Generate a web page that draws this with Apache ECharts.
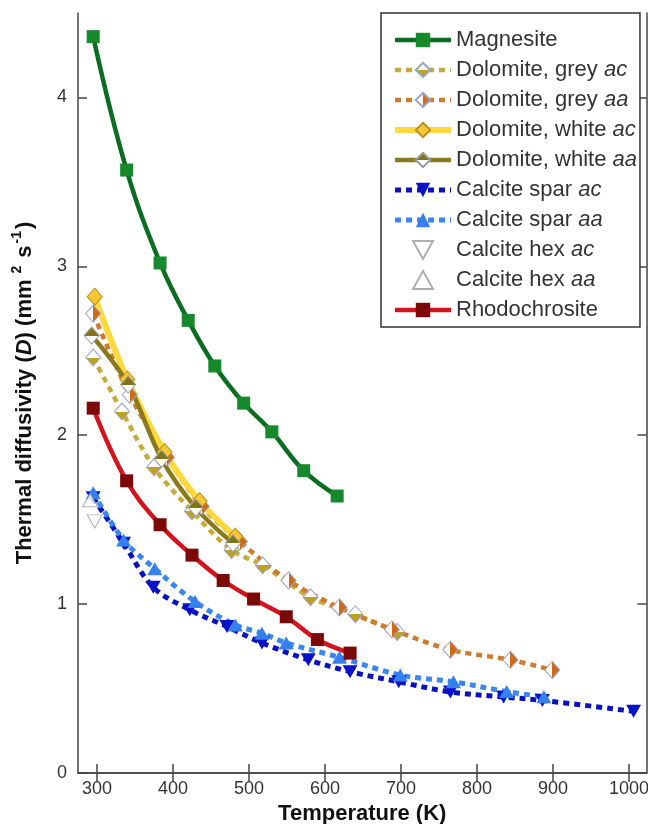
<!DOCTYPE html>
<html><head><meta charset="utf-8">
<script src="https://cdn.jsdelivr.net/npm/echarts@6/dist/echarts.min.js"></script>
<style>html,body{margin:0;padding:0;background:#fff}#c{width:648px;height:824px}</style>
</head><body><div id="c"></div>
<script>
// ---- data (Temperature K, Thermal diffusivity mm^2/s) ----
const xTicks = [300, 400, 500, 600, 700, 800, 900, 1000];
const yTicks = [0, 1, 2, 3, 4];

const magT = [295, 339, 383, 420, 455, 493, 530, 572, 616];
const magD = [4.36, 3.57, 3.02, 2.68, 2.41, 2.19, 2.02, 1.79, 1.64];

const greyAcT = [295, 333, 375, 425, 477, 518, 581, 640, 695];
const greyAcD = [2.46, 2.14, 1.81, 1.55, 1.32, 1.23, 1.04, 0.94, 0.835];

const greyAaT = [295, 343, 392, 438, 488, 552, 619, 688, 765, 844, 899];
const greyAaD = [2.72, 2.24, 1.87, 1.58, 1.37, 1.14, 0.98, 0.85, 0.73, 0.67, 0.61];

const whiteAcT = [297, 340, 389, 435, 482];
const whiteAcD = [2.82, 2.33, 1.90, 1.61, 1.40];

const whiteAaT = [293, 341, 385, 430, 479];
const whiteAaD = [2.59, 2.30, 1.86, 1.57, 1.36];

const sparAcT = [295, 335, 374, 422, 471, 517, 578, 633, 697, 765, 835, 886, 1006];
const sparAcD = [1.63, 1.36, 1.10, 0.966, 0.867, 0.77, 0.67, 0.60, 0.54, 0.48, 0.45, 0.43, 0.365];

const sparAaT = [295, 335, 376, 429, 482, 517, 549, 619, 699, 769, 839, 888];
const sparAaD = [1.66, 1.38, 1.21, 1.015, 0.877, 0.828, 0.77, 0.685, 0.58, 0.54, 0.482, 0.452];

const hexAcT = [297];
const hexAcD = [1.49];
const hexAaT = [291];
const hexAaD = [1.615];

const rhoT = [295, 339, 383, 425, 466, 506, 549, 590, 633];
const rhoD = [2.16, 1.73, 1.47, 1.29, 1.14, 1.03, 0.925, 0.79, 0.71];

const names = ['Magnesite', 'Dolomite, grey ac', 'Dolomite, grey aa', 'Dolomite, white ac',
  'Dolomite, white aa', 'Calcite spar ac', 'Calcite spar aa', 'Calcite hex ac', 'Calcite hex aa', 'Rhodochrosite'];

// ---- helpers ----
const pairs = (xs, ys) => xs.map((x, i) => [x, ys[i]]);
const splitV = (top, bottom) => ({type: 'linear', x: 0, y: 0, x2: 0, y2: 1,
  colorStops: [{offset: 0, color: top}, {offset: 0.5, color: top}, {offset: 0.5, color: bottom}, {offset: 1, color: bottom}]});
const splitH = (left, right) => ({type: 'linear', x: 0, y: 0, x2: 1, y2: 0,
  colorStops: [{offset: 0, color: left}, {offset: 0.5, color: left}, {offset: 0.5, color: right}, {offset: 1, color: right}]});
const DOWN = 'path://M0,0 L10,0 L5,9 Z';
const UP = 'path://M5,0 L10,9 L0,9 Z';
const DOT = [6, 5];

function lineSeries(name, xs, ys, o) {
  return {
    name, type: 'line', data: pairs(xs, ys), smooth: o.smooth ?? 0.35,
    symbol: o.symbol, symbolSize: o.size,
    lineStyle: {color: o.lineColor, width: o.width, type: o.type || 'solid', cap: 'butt'},
    itemStyle: {color: o.fill, borderColor: o.border || o.fill, borderWidth: o.bw ?? 0, opacity: 1},
    z: o.z || 2, animation: false, silent: true
  };
}

const series = [
  lineSeries(names[0], magT, magD, {symbol: 'rect', size: 13, lineColor: '#0b6d22', width: 4.5, fill: '#16892c', smooth: 0.4}),
  lineSeries(names[1], greyAcT, greyAcD, {symbol: 'diamond', size: [15, 17], lineColor: '#c8aa34', width: 4.5, type: DOT,
    fill: splitV('#ffffff', '#bfa020'), border: '#98a4c8', bw: 1}),
  lineSeries(names[2], greyAaT, greyAaD, {symbol: 'diamond', size: [15, 17], lineColor: '#cf7a2c', width: 4.5, type: DOT,
    fill: splitH('#ffffff', '#d06a14'), border: '#98a4c8', bw: 1}),
  lineSeries(names[3], whiteAcT, whiteAcD, {symbol: 'diamond', size: [15, 17], lineColor: '#ffd83c', width: 6,
    fill: '#f8c834', border: '#b89020', bw: 1}),
  lineSeries(names[4], whiteAaT, whiteAaD, {symbol: 'diamond', size: [15, 17], lineColor: '#8a7a1c', width: 4.5,
    fill: splitV('#7f7418', '#ffffff'), border: '#9a9a9a', bw: 1}),
  lineSeries(names[5], sparAcT, sparAcD, {symbol: DOWN, size: [15, 13], lineColor: '#0a12c0', width: 5, type: DOT,
    fill: '#0a12c8'}),
  lineSeries(names[6], sparAaT, sparAaD, {symbol: UP, size: [15, 13], lineColor: '#3a86f2', width: 5, type: DOT,
    fill: '#3580f0'}),
  {name: names[7], type: 'scatter', data: pairs(hexAcT, hexAcD), symbol: DOWN, symbolSize: [15, 13],
    itemStyle: {color: '#ffffff', borderColor: '#9a9a9a', borderWidth: 1}, animation: false, silent: true, z: 3},
  {name: names[8], type: 'scatter', data: pairs(hexAaT, hexAaD), symbol: UP, symbolSize: [15, 13],
    itemStyle: {color: '#ffffff', borderColor: '#9a9a9a', borderWidth: 1}, animation: false, silent: true, z: 3},
  lineSeries(names[9], rhoT, rhoD, {symbol: 'rect', size: 13, lineColor: '#d4141c', width: 4.5, fill: '#7c0808', smooth: 0.4}),
];

const axisLine = {show: true, lineStyle: {color: '#444', width: 1.5}};
const tickStyle = {lineStyle: {color: '#444', width: 1.5}};

const option = {
  backgroundColor: '#fff',
  animation: false,
  grid: {left: 78, right: 1.5, top: 13, bottom: 51, outerBoundsMode: 'none', containLabel: false},
  xAxis: [
    {type: 'value', min: 275, max: 1023, position: 'bottom',
     axisLine, axisTick: Object.assign({show: true, inside: true, length: 9, customValues: xTicks}, tickStyle),
     axisLabel: {customValues: xTicks, fontSize: 18, color: '#333', margin: 7, fontFamily: 'Liberation Sans',
       formatter: (v) => String(v)},
     splitLine: {show: false},
     name: 'Temperature (K)', nameLocation: 'middle', nameGap: 30,
     nameTextStyle: {fontSize: 22, fontWeight: 'bold', color: '#111', fontFamily: 'Liberation Sans'}},
    {type: 'value', min: 275, max: 1023, position: 'top',
     axisLine, axisTick: Object.assign({show: true, inside: true, length: 9, customValues: xTicks}, tickStyle),
     axisLabel: {show: false}, splitLine: {show: false}}
  ],
  yAxis: [
    {type: 'value', min: 0, max: 4.5, position: 'left',
     axisLine, axisTick: Object.assign({show: true, inside: true, length: 9, customValues: yTicks}, tickStyle),
     axisLabel: {customValues: yTicks, fontSize: 18, color: '#333', margin: 11, fontFamily: 'Liberation Sans',
       formatter: (v) => String(v)},
     splitLine: {show: false},
     name: '{b|Thermal diffusivity (}{bi|D}{b|) (mm}{sup| 2}{b| s}{sup|-1}{b|)}',
     nameLocation: 'middle', nameGap: 42,
     nameTextStyle: {fontSize: 22, fontWeight: 'bold', color: '#111', fontFamily: 'Liberation Sans',
       rich: {
         b: {fontSize: 22, fontWeight: 'bold', color: '#111', fontFamily: 'Liberation Sans', lineHeight: 26, verticalAlign: 'bottom'},
         bi: {fontSize: 22, fontWeight: 'bold', fontStyle: 'italic', color: '#111', fontFamily: 'Liberation Sans', lineHeight: 26, verticalAlign: 'bottom'},
         sup: {fontSize: 14, fontWeight: 'bold', color: '#111', fontFamily: 'Liberation Sans', lineHeight: 26, verticalAlign: 'top', padding: [0, 2, 0, 2]}
       }}},
    {type: 'value', min: 0, max: 4.5, position: 'right',
     axisLine, axisTick: Object.assign({show: true, inside: true, length: 9, customValues: yTicks}, tickStyle),
     axisLabel: {show: false}, splitLine: {show: false}}
  ],
  legend: {
    data: names, orient: 'vertical', left: 381, top: 13,
    padding: [16, 3, 6, 11], itemGap: 8, itemWidth: 56, itemHeight: 18, itemTextGap: 7,
    borderColor: '#333', borderWidth: 1.5, backgroundColor: '#fff',
    selectedMode: false,
    lineStyle: {width: 'inherit'},
    formatter: (n) => {
      const m = n.match(/^(.*) (ac|aa)$/);
      return m ? '{n|' + m[1] + ' }{i|' + m[2] + '}' : '{n|' + n + '}';
    },
    textStyle: {color: '#333', fontSize: 22, fontFamily: 'Liberation Sans',
      rich: {n: {fontSize: 22, lineHeight: 20, fontFamily: 'Liberation Sans', color: '#333'},
             i: {fontSize: 22, lineHeight: 20, fontStyle: 'italic', fontFamily: 'Liberation Sans', color: '#333'}}}
  },
  series
};
const chart = echarts.init(document.getElementById('c'), null, {renderer: 'canvas'});
chart.setOption(option);
</script></body></html>
